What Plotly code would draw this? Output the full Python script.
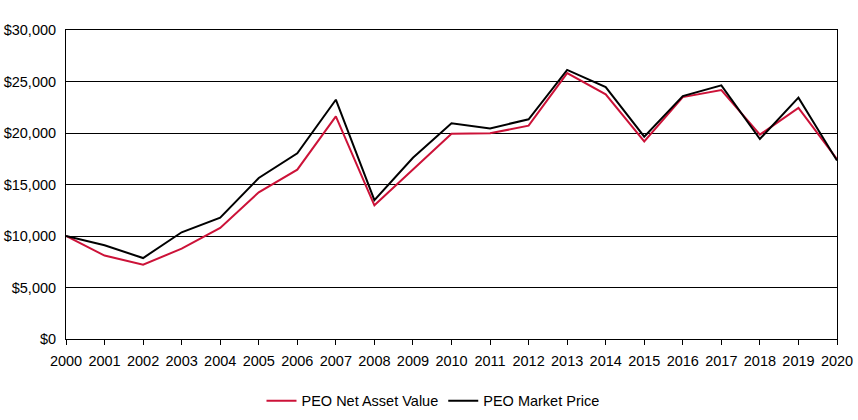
import plotly.graph_objects as go

years = list(range(2000, 2021))
nav = [10000, 8100, 7220, 8770, 10780, 14240, 16440, 21620, 12980, 16450, 19930,
       19970, 20710, 25820, 23750, 19190, 23490, 24170, 19840, 22430, 17470]
market = [10000, 9100, 7860, 10360, 11780, 15630, 18030, 23230, 13490, 17600, 20940,
          20450, 21330, 26120, 24460, 19640, 23590, 24630, 19420, 23430, 17320]
y_ticks = [0, 5000, 10000, 15000, 20000, 25000, 30000]
y_labels = ["$0", "$5,000", "$10,000", "$15,000", "$20,000", "$25,000", "$30,000"]

font = dict(family="Liberation Sans, Arial, sans-serif", size=14.5, color="#000000")

fig = go.Figure()
fig.add_trace(go.Scatter(x=years, y=nav, mode="lines", name="PEO Net Asset Value",
                         line=dict(color="#CC1238", width=2)))
fig.add_trace(go.Scatter(x=years, y=market, mode="lines", name="PEO Market Price",
                         line=dict(color="#000000", width=2)))

fig.update_layout(
    width=858, height=420,
    margin=dict(l=66, r=21, t=30, b=81, autoexpand=False),
    paper_bgcolor="white", plot_bgcolor="white",
    font=font,
    showlegend=True,
    legend=dict(orientation="h", x=0.476, xanchor="center", y=-0.2, yanchor="middle",
                font=font, bgcolor="rgba(0,0,0,0)", traceorder="normal",
                itemwidth=30),
)
fig.update_xaxes(
    range=[2000, 2020], tickmode="array", tickvals=years,
    ticktext=[str(y) for y in years],
    ticks="outside", ticklen=5, tickcolor="black", tickwidth=1,
    showline=True, linecolor="black", linewidth=1, mirror=True,
    showgrid=False, zeroline=False, tickfont=font, automargin=False,
    ticklabelstandoff=4,
)
fig.update_yaxes(
    range=[0, 30000], tickmode="array", tickvals=y_ticks, ticktext=y_labels,
    ticks="", showline=True, linecolor="black", linewidth=1, mirror=True,
    showgrid=True, gridcolor="black", gridwidth=1, zeroline=False,
    tickfont=font, ticklabelstandoff=6, automargin=False,
)

fig.write_html("out.html",
               config={"displayModeBar": False},
               post_script="document.body.style.margin='0';document.body.style.padding='0';")
